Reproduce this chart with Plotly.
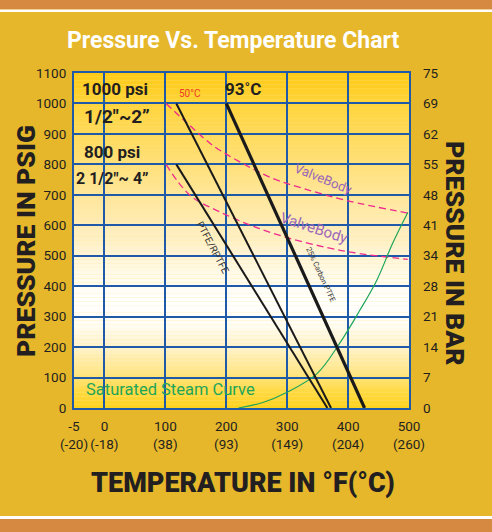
import plotly.graph_objects as go

# ---------------- data ----------------
# x axis: degrees F (the -5 °F tick is drawn half a grid cell left of 0 on the original chart)
x_tick_pos = [-50, 0, 100, 200, 300, 400, 500]
x_tick_text = ["-5<br>(-20)", "0<br>(-18)", "100<br>(38)", "200<br>(93)",
               "300<br>(149)", "400<br>(204)", "500<br>(260)"]
psi_ticks = [0, 100, 200, 300, 400, 500, 600, 700, 800, 900, 1000, 1100]
bar_tick_text = ["0", "7", "14", "21", "28", "34", "41", "48", "55", "62", "69", "75"]

# PTFE / RPTFE seats
ptfe_small_F = [118, 372]     # 1/2"~2"  (1000 psi)
ptfe_small_psi = [1000, 0]
ptfe_large_F = [118, 366]     # 2 1/2"~4" (800 psi)
ptfe_large_psi = [800, 0]
# 25% carbon PTFE
carbon_F = [200, 427]
carbon_psi = [1000, 0]

# valve body ratings (dashed)
body_hi_F = [101, 135, 178, 227, 276, 326, 398, 498]
body_hi_psi = [1000, 937, 862, 803, 754, 721, 681, 640]
body_lo_F = [101, 123, 145, 184, 240, 299, 365, 419, 498]
body_lo_psi = [800, 737, 691, 649, 600, 560, 527, 507, 488]

# saturated steam curve
steam_F = [220, 260, 299, 349, 386, 419, 447, 473, 498]
steam_psi = [0, 18, 51, 113, 212, 320, 419, 540, 642]

# ---------------- geometry helpers ----------------
W, H = 492, 532
L, R, T, B = 74, 409, 73, 408
PW, PH = R - L, B - T

def px(xp):
    return (xp - L) / PW

def py(yp):
    return (B - yp) / PH

BLUE = "#1F5AA8"
FONT = "Roboto, Liberation Sans, Arial, sans-serif"

fig = go.Figure()

fig.add_trace(go.Scatter(x=body_hi_F, y=body_hi_psi, mode="lines", line_shape="spline",
                         line=dict(color="#EE2A8C", width=1.3, dash="7px,4px"), hoverinfo="skip"))
fig.add_trace(go.Scatter(x=body_lo_F, y=body_lo_psi, mode="lines", line_shape="spline",
                         line=dict(color="#EE2A8C", width=1.3, dash="7px,4px"), hoverinfo="skip"))
fig.add_trace(go.Scatter(x=steam_F, y=steam_psi, mode="lines", line_shape="spline",
                         line=dict(color="#1DA55A", width=1.2), hoverinfo="skip"))
fig.add_trace(go.Scatter(x=ptfe_small_F, y=ptfe_small_psi, mode="lines",
                         line=dict(color="#1A1A1A", width=2), hoverinfo="skip"))
fig.add_trace(go.Scatter(x=ptfe_large_F, y=ptfe_large_psi, mode="lines",
                         line=dict(color="#1A1A1A", width=2), hoverinfo="skip"))
fig.add_trace(go.Scatter(x=carbon_F, y=carbon_psi, mode="lines",
                         line=dict(color="#1A1A1A", width=3.2), hoverinfo="skip"))
# invisible trace to activate right axis
fig.add_trace(go.Scatter(x=[0], y=[0], yaxis="y2", mode="markers",
                         marker=dict(opacity=0), hoverinfo="skip"))

# ---------------- background gradient inside plot ----------------
stops = [(0, (255, 210, 30)), (50, (255, 217, 64)), (120, (255, 230, 138)),
         (200, (255, 243, 204)), (280, (255, 253, 246)), (350, (255, 255, 255)),
         (430, (255, 250, 234)), (550, (255, 240, 198)), (700, (255, 230, 154)),
         (850, (255, 221, 106)), (1000, (255, 212, 60)), (1100, (255, 201, 20))]

def col_at(v):
    for (a, ca), (b, cb) in zip(stops[:-1], stops[1:]):
        if a <= v <= b:
            t = (v - a) / (b - a)
            c = [round(ca[i] + (cb[i] - ca[i]) * t) for i in range(3)]
            return "rgb(%d,%d,%d)" % tuple(c)
    return "rgb(255,210,30)"

shapes = []
N = 88
for i in range(N):
    y0 = 1100 * i / N
    y1 = 1100 * (i + 1) / N
    shapes.append(dict(type="rect", xref="x domain", yref="y", x0=0, x1=1, y0=y0, y1=y1,
                       fillcolor=col_at((y0 + y1) / 2), line=dict(width=0), layer="below"))

# page bands
shapes += [
    dict(type="rect", xref="paper", yref="paper", x0=px(0), x1=px(W), y0=py(0), y1=py(9.5),
         fillcolor="#D68940", line=dict(width=0), layer="below"),
    dict(type="rect", xref="paper", yref="paper", x0=px(0), x1=px(W), y0=py(9.5), y1=py(12),
         fillcolor="#FFFFFF", line=dict(width=0), layer="below"),
    dict(type="rect", xref="paper", yref="paper", x0=px(0), x1=px(W), y0=py(516), y1=py(519),
         fillcolor="#FFFFFF", line=dict(width=0), layer="below"),
    dict(type="rect", xref="paper", yref="paper", x0=px(0), x1=px(W), y0=py(519), y1=py(H),
         fillcolor="#D68940", line=dict(width=0), layer="below"),
]

ann = []
def A(text, x, y, size, color="#231F20", angle=0, xref="x", yref="y", weight="normal"):
    ann.append(dict(text=text, x=x, y=y, xref=xref, yref=yref, showarrow=False,
                    xanchor="center", yanchor="middle",
                    font=dict(size=size, color=color, family=FONT, weight=weight),
                    textangle=angle))

# titles (paper coords from pixel positions)
A("Pressure Vs. Temperature Chart", px(233), py(41), 23, "#FFFFFF", xref="paper", yref="paper", weight=700)
A("PRESSURE IN PSIG", px(25), py(241), 26.5, "#231F20", -90, xref="paper", yref="paper", weight=900)
A("PRESSURE IN BAR", px(456), py(253), 26.5, "#231F20", 90, xref="paper", yref="paper", weight=900)
A("TEMPERATURE IN °F(°C)", px(243), py(483), 27, "#231F20", xref="paper", yref="paper", weight=900)

# labels inside the plot
A("1000 psi", 18, 1049, 17, weight=700)
A("1/2\"~2”", 20, 957, 19, weight=700)
A("800 psi", 12, 842, 17, weight=700)
A("2 1/2\"~ 4”", 13, 753, 16, weight=700)
A("50°C", 141, 1033, 10, "#EE3A24")
A("93˚C", 227, 1049, 17, "#231F20", weight=700)
A("ValveBody", 358, 753, 13, "#9A66B8", 22)
A("ValveBody", 344, 590, 15, "#9A66B8", 18)
A("PTFE/RPTFE", 178, 527, 10, "#333333", 62)
A("25% Carbon PTFE", 355, 438, 7.5, "#333333", 65)
A("Saturated Steam Curve", 108, 61, 16.5, "#1DA55A")
A("180°C", 357, -34, 10.5, "#231F20")
A("220°C", 442, -25, 11, "#EE3A24")

axis_common = dict(showline=True, linecolor=BLUE, linewidth=2, mirror=True,
                   showgrid=True, gridcolor=BLUE, gridwidth=2, zeroline=False,
                   ticks="", fixedrange=True)

tickfont = dict(size=13.5, color="#231F20", family=FONT)

fig.update_layout(
    width=W, height=H,
    margin=dict(l=L, r=W - R, t=T, b=H - B, autoexpand=False),
    paper_bgcolor="#E6B72A", plot_bgcolor="#FFE68A",
    showlegend=False,
    shapes=shapes, annotations=ann,
    xaxis=dict(range=[-50, 500], tickvals=x_tick_pos, ticktext=x_tick_text, tickangle=0,
               tickfont=tickfont, ticklabelstandoff=5, automargin=False, **axis_common),
    yaxis=dict(range=[0, 1100], tickvals=psi_ticks,
               tickfont=tickfont, ticklabelstandoff=3, automargin=False, **axis_common),
    yaxis2=dict(range=[0, 1100], tickvals=psi_ticks, ticktext=bar_tick_text,
                overlaying="y", side="right", showgrid=False, showline=False, zeroline=False,
                tickfont=tickfont, ticklabelstandoff=13, automargin=False,
                ticks="", fixedrange=True),
)

fig.write_html("out.html", config={"displayModeBar": False},
               post_script="document.body.style.margin='0px';")
